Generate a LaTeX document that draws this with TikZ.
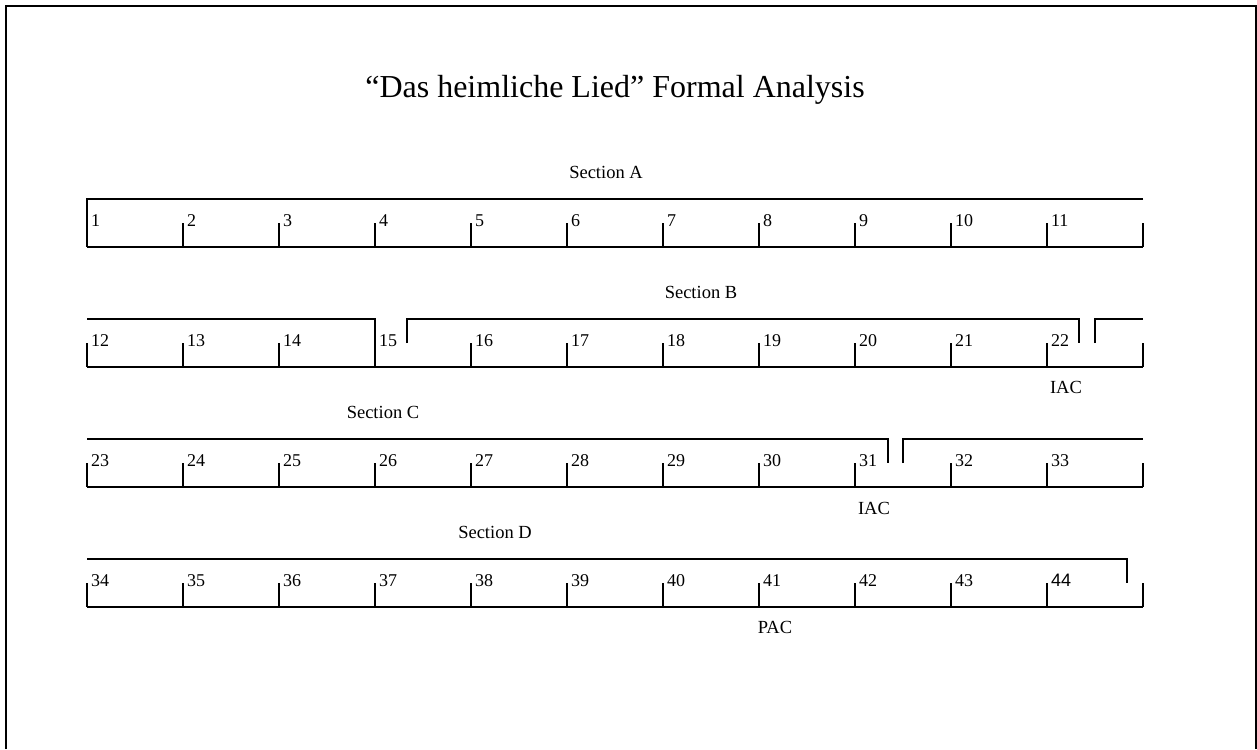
\documentclass[tikz,border=0pt]{standalone}
\usepackage{fontspec}
\setmainfont{Liberation Serif}
\newfontfamily\arialfont{Liberation Sans}
\begin{document}
\begin{tikzpicture}[x=1pt,y=-1pt,line width=2pt,line join=miter,
  num/.style={font=\fontsize{18}{18}\selectfont,inner sep=0pt,anchor=base west},
  lbl/.style={font=\fontsize{18.5}{18.5}\selectfont,inner sep=0pt,anchor=base},
  ttl/.style={font=\fontsize{32}{32}\selectfont,inner sep=0pt,anchor=base}]
\useasboundingbox (0,0) rectangle (1257,749);
% frame
\draw (6,749) -- (6,6) -- (1256,6) -- (1256,749);
\node[ttl] (title) at (615,98) {``Das heimliche Lied'' Formal Analysis};
% bottom lines and ticks for each row
\foreach \r in {0,1,2,3}{
  \pgfmathsetmacro{\yB}{247+120*\r}
  \pgfmathsetmacro{\yK}{223+120*\r}
  \draw (87,\yB) -- (1143,\yB);
  \foreach \i in {0,...,11}{
    \pgfmathsetmacro{\xx}{87+96*\i}
    \draw (\xx,\yK) -- (\xx,\yB);
  }
  \foreach \i in {0,...,10}{
    \pgfmathtruncatemacro{\n}{11*\r+\i+1}
    \pgfmathsetmacro{\xx}{90+96*\i}
    \ifnum\n=44
      \node[num,font=\fontsize{18}{18}\arialfont] (n\n) at (\xx,\yK+3) {\n};
    \else
      \node[num] (n\n) at (\xx,\yK+3) {\n};
    \fi
  }
}
% Row 1: Section A
\draw (1143,199) -- (87,199) -- (87,247);
\node[lbl] (secA) at (606,178) {Section A};
% Row 2: Section B
\draw (87,319) -- (375,319) -- (375,367);
\draw (407,343) -- (407,319) -- (1079,319) -- (1079,343);
\draw (1095,343) -- (1095,319) -- (1143,319);
\node[lbl] (secB) at (701,298) {Section B};
\node[lbl] (iac1) at (1066,393) {IAC};
% Row 3: Section C
\draw (87,439) -- (888,439) -- (888,463);
\draw (903,463) -- (903,439) -- (1143,439);
\node[lbl] (secC) at (383,418) {Section C};
\node[lbl] (iac2) at (874,514) {IAC};
% Row 4: Section D
\draw (87,559) -- (1127,559) -- (1127,583);
\node[lbl] (secD) at (495,538) {Section D};
\node[lbl] (pac) at (775,633) {PAC};
\end{tikzpicture}
\end{document}
